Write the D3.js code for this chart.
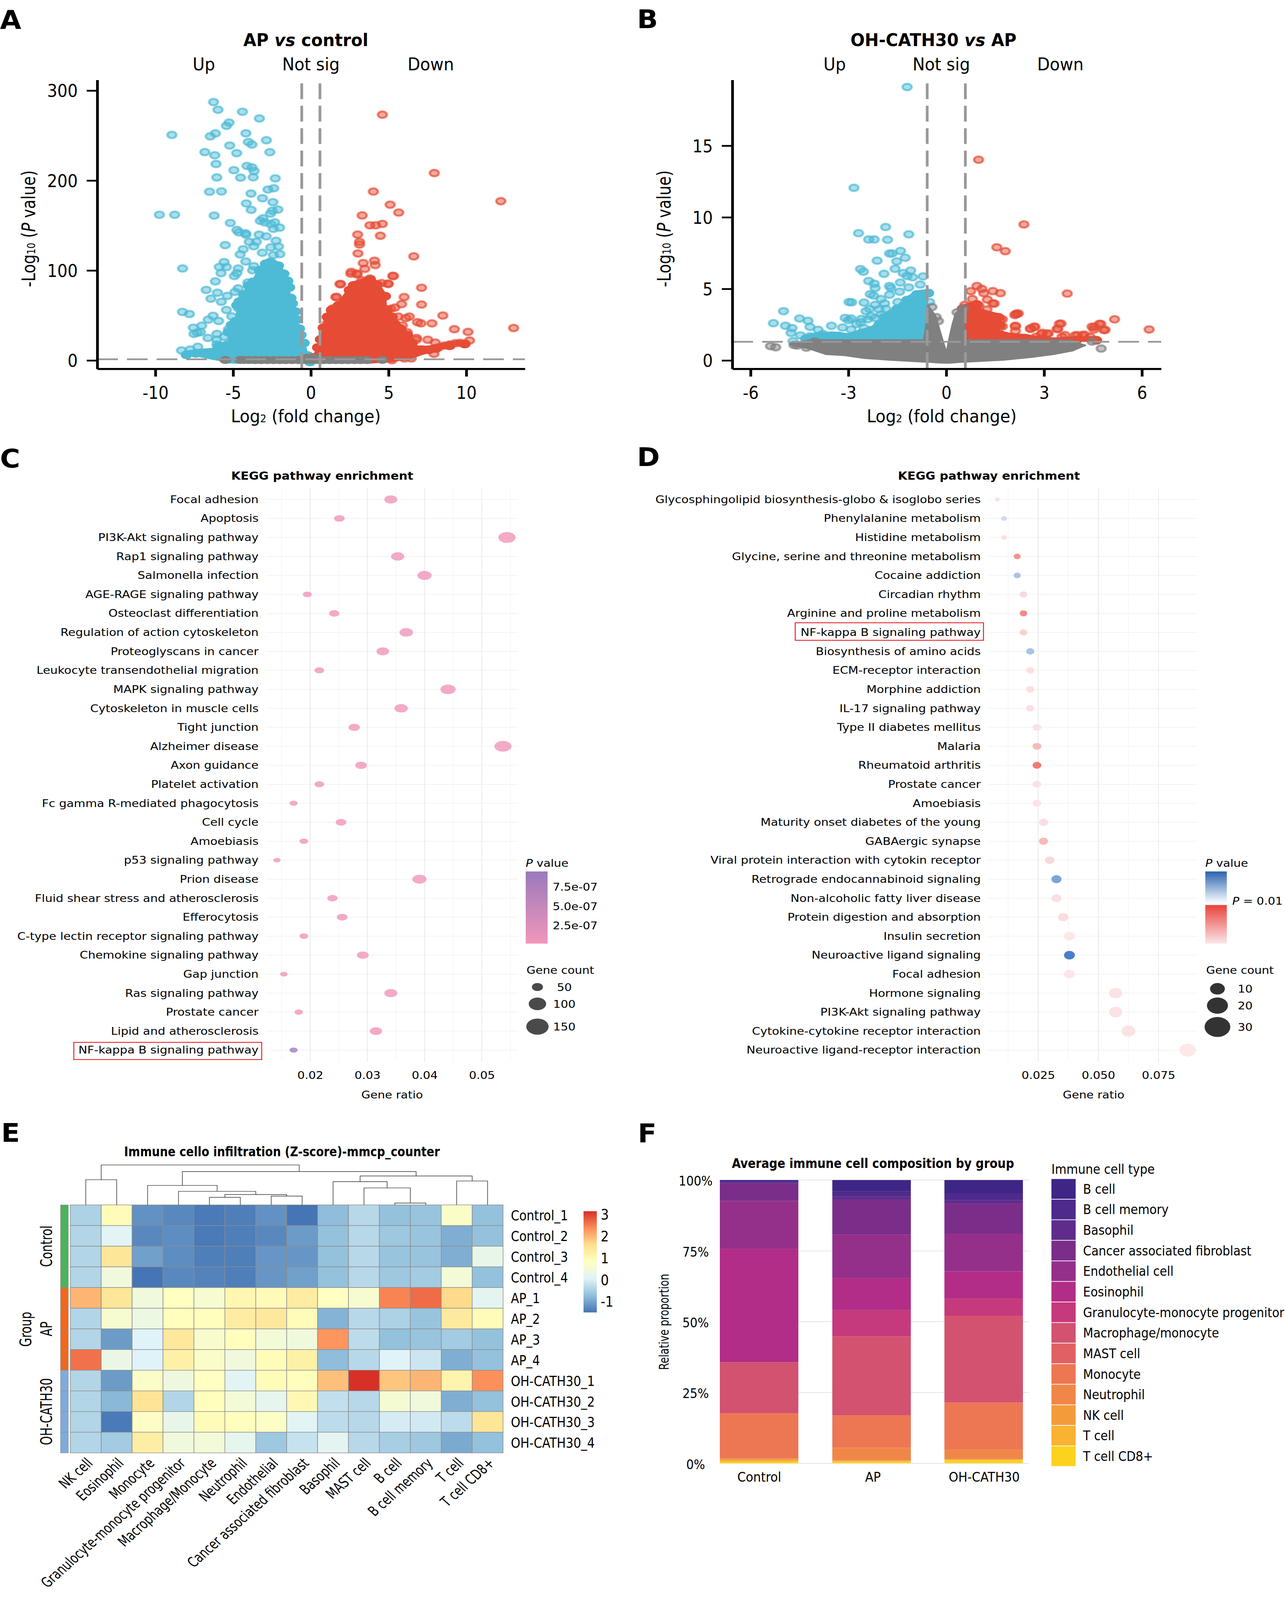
<!DOCTYPE html>
<html>
<head>
<meta charset="utf-8">
<script src="https://cdn.jsdelivr.net/npm/d3@7"></script>
<style>
html, body { margin: 0; background: #fff; overflow: hidden; }
text { font-family: "DejaVu Sans", sans-serif; fill: #000; }
</style>
</head>
<body>
<div id="chart"></div>
<script>
// volcano A: values, [log2fc, -log10p]
var aUp = [[-6.26,287.2],[-5.97,278.7],[-4.4,276.4],[-3.31,269],[-5.26,264.4],[-5.43,260.8],[-8.94,250.7],[-6.14,252.4],[-6.47,249.1],[-4.18,252.5],[-2.86,244.8],[-4.02,242.8],[-3.79,240],[-5.22,238.9],[-4.77,230.4],[-2.64,231.5],[-6.82,231.6],[-6.18,228.1],[-6.1,218.4],[-4.11,216.2],[-3.79,214.5],[-3.65,210.6],[-4.95,211.5],[-6.05,203.4],[-4.52,203.2],[-3.71,203.6],[-2.29,202.4],[-6.52,187.5],[-5.75,187.9],[-3.85,185.5],[-2.76,190],[-2.39,191.4],[-3.11,180.3],[-4.15,174.5],[-2.44,175.9],[-3.84,167.4],[-2.12,167.7],[-2.48,166.4],[-2.6,163.2],[-9.74,161.9],[-8.76,161.9],[-6.22,161],[-5.18,152.8],[-3.08,158],[-3.25,155.2],[-2.96,153.5],[-2.33,153.5],[-2.01,147.6],[-2.41,146.3],[-2.58,151.5],[-4.76,145],[-4.63,142.4],[-4.21,141.4],[-4.17,139.8],[-3.33,139.8],[-2.87,137.9],[-3.96,131.8],[-3.5,132],[-3.67,126.9],[-2.24,133],[-2.08,126.5],[-2.58,125.6],[-5.51,128.2],[-4.35,123.6],[-3.12,119.7],[-4.55,117.8],[-1.99,118.2],[-2.41,117.1],[-5.58,109.3],[-4.19,110],[-5.89,103.9],[-5.43,103.8],[-8.25,102.2],[-4.67,102.2],[-3.67,104.8],[-3.75,100.2],[-5.78,97],[-4.76,97],[-4.92,93.8],[-6.14,87.9],[-4.05,86.6],[-6.73,78.4],[-6.01,75.2],[-6.43,68.7],[-5.38,71.7],[-5.76,65.2],[-4.67,80.1],[-4.88,76.2],[-1.37,80.8],[-4.38,68.4],[-4.67,58.1],[-8.26,53.9],[-7.81,51.6],[-5.43,56.1],[-6.29,49.6],[-6.6,45.3],[-5.93,43.8],[-5.09,49],[-4.17,47],[-7.56,36.4],[-7.02,38.6],[-7.31,30.8],[-7.52,29.5],[-7.1,31.4],[-5.3,34.7],[-5.09,32.1],[-4.59,31.4],[-4.3,36.6],[-6.62,25],[-6.04,29.5],[-5.57,26.3],[-6.05,23],[-6.05,17.8],[-5.34,18.5],[-7.27,15.2],[-8.32,11.1],[-7.77,12]];
var aDown = [[4.6,273.2],[7.94,208.3],[12.22,177],[4.02,187.7],[5.1,173.1],[5.65,164.4],[3.3,161.2],[4.6,151.8],[3.8,150.2],[4.17,150.2],[3.01,139.9],[4.47,138.6],[3.13,131.8],[3.13,128.9],[3.03,118.9],[6.62,115.7],[4.09,110.8],[4.14,106],[3.37,108.2],[3.47,101.8],[2.6,98.5],[2.96,96.6],[5.27,94],[1.88,85],[7.12,80.8],[1.66,70.5],[7.12,62.1],[3.8,90.8],[4.55,86],[4.98,85],[5.31,93.8],[6,70.4],[5.84,62.6],[8.49,49.9],[7.79,41.2],[7.08,41.2],[6.86,42.5],[9.23,34.7],[10.11,31.7],[13.04,36],[10.21,22.1],[9.6,19.5],[9.29,19.1],[8.93,17.8],[8.58,16.5],[8.23,14.6],[7.92,7.4],[8,19.8],[7.52,23],[6.79,25],[6.79,23],[6.33,48.7],[6.11,47],[5.62,48.7],[5.4,58.7],[5.14,57.4],[5.89,38.8],[6.2,31.4],[5.36,37.3],[4.91,39.2],[4.96,85.3],[3.81,90.5],[3.28,89.2],[2.97,95.7],[2.57,96.4],[1.91,84.7],[1.6,70.4],[1.43,58],[1.34,51.6],[1.07,41.8],[4.52,65.8],[4.52,58],[5.22,.3],[6.02,2.2],[6.46,2.2]];
var aNs = [[-5.5,.5],[-4.55,.5],[-4.3,.5],[-4,.5],[-3.6,.4],[-3.2,.4],[-2.8,.4],[-2.4,.4],[-2,.4],[-1.6,.4],[-1.2,.4],[-.8,.4],[-.4,.5],[-.25,3],[0,.4],[.25,3],[.4,.5],[.8,.4],[1.2,.4],[1.6,.4],[2,.4],[2.4,.4],[2.8,.4],[3.2,.4],[3.6,.4],[4.6,.6]];
// dense part of each cloud, [log2fc, top, bottom]
var aUpBody = [[-8,11,8],[-7.4,12.5,4.5],[-6.3,14,.5],[-5.95,20,-.5],[-5.35,21,-3],[-5.3,36,-3.3],[-5.1,44,-3.5],[-4.85,48,-3.6],[-4.75,66,-3.6],[-4.6,70,-3.6],[-4.3,78,-3.6],[-4,88,-3.6],[-3.7,92,-3.6],[-3.3,105,-3.6],[-2.9,112,-3.6],[-2.6,114,-3.6],[-2.1,110,-3.6],[-1.75,101,-3.6],[-1.5,93,-3.6],[-1.4,86,-3.6],[-1.3,74,-3.6],[-1.2,68,-3.6],[-1,59,-3.6],[-.9,50,-3.6],[-.75,40,-3.6],[-.65,33,-3.6],[-.45,24,-3.6],[-.2,10,-3.6],[-.05,3,3]];
var aDownBody = [[.2,8,3.5],[.45,19,-1],[.63,28,-3],[.81,41,-3.6],[1.07,53,-3.6],[1.34,60.7,-3.6],[1.78,65.8,-3.6],[2.49,82.7,-3.6],[2.75,88,-3.6],[3.81,94.4,-3.6],[4.25,89,-3],[4.78,76,-3],[4.9,61,-2.5],[5.22,53,-2],[5.4,45,-1.5],[5.75,40,-.5],[6.2,33,.2],[6.5,24,2],[6.6,17,2.5],[7.17,16.5,6],[7.6,16.5,8],[8.05,18,10],[8.93,21,15.2],[9.9,23,18]];

// volcano B
var bUp = [[-1.2,19.1],[-2.83,12.06],[-1.86,9.32],[-2.69,8.89],[-1.15,8.81],[-2.38,8.45],[-2.21,8.45],[-1.8,8.43],[-1.4,7.65],[-1.74,7.47],[-1.66,7.47],[-1.26,7.17],[-2.12,6.97],[-1.52,6.92],[-2.63,6.38],[-2.54,6.2],[-1.57,6.4],[-1.09,6.28],[-1.91,6.05],[-1.32,6.1],[-1.2,5.9],[-.71,5.87],[-1.03,5.81],[-2.38,5.55],[-2.21,5.36],[-1.41,5.44],[-.8,5.3],[-1.74,5.2],[-1.7,5.06],[-2.18,5.06],[-1.15,5.1],[-2.33,4.63],[-2.23,4.53],[-1.74,4.59],[-1.43,4.8],[-2,4.29],[-.51,4.08],[-2.98,4.08],[-2.9,4.06],[-2.52,4.04],[-1.89,3.98],[-2.18,3.88],[-1.49,4.08],[-2.06,3.58],[-4.99,3.44],[-2.46,3.44],[-4.5,2.93],[-4.24,2.77],[-3.1,2.97],[-2.92,2.93],[-3,2.81],[-5.3,2.6],[-2.63,2.66],[-2.41,2.87],[-2.18,2.97],[-4.93,2.42],[-4.73,2.26],[-4.18,2.34],[-3.52,2.42],[-3.18,2.3],[-4.76,1.92],[-3.93,2.14],[-4.47,1.75],[-4.18,1.69],[-3.78,1.85],[-3.5,1.75],[-2.92,2.16],[-4.7,1.35],[-2.52,2.26],[-2.75,2.55],[-2.3,3.1],[-2.6,2.9],[-2,3.2],[-2.35,3.6],[-1.85,3.6]];
var bDown = [[.99,14.02],[2.38,9.5],[1.55,7.9],[1.81,7.63],[3.71,4.67],[.94,5.2],[1.09,5],[.75,4.84],[1.15,4.7],[1.43,4.84],[1.66,4.7],[.8,4.29],[1.26,4.25],[1.43,3.98],[.57,3.88],[2.16,3.27],[2.1,3.17],[1.66,2.87],[5.16,2.87],[4.7,2.56],[6.22,2.16],[3.47,2.56],[2.69,2.36],[2.58,2.22],[2.12,2.42],[1.66,2.42],[3.4,2.2],[4.47,2.36],[4.83,2.12],[4.53,2.16],[2.12,2.06],[2.92,1.85],[3.09,1.85],[2.75,1.65],[3.55,1.65],[3.95,1.75],[4.18,1.75],[4.41,1.65],[4.87,2.14],[4.54,2.34],[4.74,2.54],[3.52,2.57],[3.42,2.2],[2.72,2.34],[2.59,2.22],[2.14,3.24],[2.21,3.28],[1.72,2.87],[1.72,2.38],[2.12,2.38],[1.47,3.97],[1,3.85],[1.25,3.56],[2.95,1.93],[3.13,1.89],[3.64,1.77],[4.02,1.77],[4.23,1.81]];
var bNs = [[-5.39,1],[-5.23,.92],[-4.67,1.08],[-4.57,1.04],[-4.29,.89],[-4.03,1.32],[4.75,.83],[4.47,1.32],[.33,3.36],[.53,3.65],[-.31,3.03],[-.24,2.75],[-.44,3.73]];
var bUpBody = [[-4.3,1.8,1.3],[-3.9,2,1.3],[-3.3,2,1.3],[-3,1.9,1.3],[-2.6,2.2,1.3],[-2.3,2.4,1.3],[-2.05,2.8,1.3],[-1.9,3.3,1.3],[-1.5,3.9,1.3],[-1.2,4.5,1.3],[-.9,4.9,1.3],[-.55,5,1.3]];
var bDownBody = [[.5,3.9,1.3],[.93,4.2,1.3],[1.07,3.6,1.3],[1.6,3.3,1.3],[1.62,2.75,1.3],[1.65,2.1,1.3],[1.96,1.93,1.3],[2.41,1.85,1.3],[2.86,1.7,1.3],[3.3,1.6,1.3],[3.98,1.7,1.3],[4.6,1.7,1.3]];
var bNsBody = [[-4.8,1.2,1.05],[-4.2,1.48,.76],[-3.7,1.48,.38],[-3.11,1.48,.3],[-2.51,1.48,.1],[-1.71,1.48,-.02],[-.71,1.48,-.15],[-.55,3.9,-.16],[-.31,3.16,-.2],[-.16,2,-.22],[0,.79,-.23],[.06,1.5,-.23],[.16,2.5,-.22],[.26,3.3,-.2],[.5,3.85,-.16],[.62,1.48,-.15],[1.74,1.48,-.02],[2.64,1.48,.18],[3.3,1.48,.38],[3.89,1.45,.63],[4,1.28,.75],[4.29,1.1,1.02]];

var volcanoClasses = ["Up", "Not sig", "Down"];

// KEGG enrichment C
var cPathways = ["Focal adhesion","Apoptosis","PI3K-Akt signaling pathway","Rap1 signaling pathway","Salmonella infection","AGE-RAGE signaling pathway","Osteoclast differentiation","Regulation of action cytoskeleton","Proteoglyscans in cancer","Leukocyte transendothelial migration","MAPK signaling pathway","Cytoskeleton in muscle cells","Tight junction","Alzheimer disease","Axon guidance","Platelet activation","Fc gamma R-mediated phagocytosis","Cell cycle","Amoebiasis","p53 signaling pathway","Prion disease","Fluid shear stress and atherosclerosis","Efferocytosis","C-type lectin receptor signaling pathway","Chemokine signaling pathway","Gap junction","Ras signaling pathway","Prostate cancer","Lipid and atherosclerosis","NF-kappa B signaling pathway"];
var cRatio = [.0341,.0251,.0544,.0353,.04,.0195,.0242,.0368,.0327,.0216,.0441,.0359,.0277,.0537,.0289,.0216,.0171,.0254,.0189,.0142,.0391,.0239,.0256,.0189,.0292,.0154,.0341,.018,.0315,.0171];
var cCount = [95,70,151,98,111,54,67,102,91,60,123,100,77,149,80,60,47,70,52,40,109,66,71,52,81,43,95,50,88,47];
var cP = [2e-8,2e-8,2e-8,2e-8,2e-8,2e-8,2e-8,2e-8,2e-8,2e-8,2e-8,2e-8,2e-8,2e-8,2e-8,2e-8,2e-8,2e-8,2e-8,2e-8,2e-8,2e-8,2e-8,2e-8,2e-8,2e-8,2e-8,2e-8,2e-8,8.8e-7];
var cPTicks = [2.5e-7, 5e-7, 7.5e-7];
var cCountTicks = [50, 100, 150];

// KEGG enrichment D
var dPathways = ["Glycosphingolipid biosynthesis-globo & isoglobo series","Phenylalanine metabolism","Histidine metabolism","Glycine, serine and threonine metabolism","Cocaine addiction","Circadian rhythm","Arginine and proline metabolism","NF-kappa B signaling pathway","Biosynthesis of amino acids","ECM-receptor interaction","Morphine addiction","IL-17 signaling pathway","Type II diabetes mellitus","Malaria","Rheumatoid arthritis","Prostate cancer","Amoebiasis","Maturity onset diabetes of the young","GABAergic synapse","Viral protein interaction with cytokin receptor","Retrograde endocannabinoid signaling","Non-alcoholic fatty liver disease","Protein digestion and absorption","Insulin secretion","Neuroactive ligand signaling","Focal adhesion","Hormone signaling","PI3K-Akt signaling pathway","Cytokine-cytokine receptor interaction","Neuroactive ligand-receptor interaction"];
var dRatio = [.008,.0108,.0108,.0163,.0163,.0189,.0189,.0189,.0217,.0217,.0217,.0217,.0245,.0245,.0245,.0245,.0245,.0272,.0272,.0298,.0326,.0326,.0354,.038,.038,.038,.0572,.0572,.0625,.0871];
var dCount = [3,4,4,6,6,7,7,7,8,8,8,8,9,9,9,9,9,10,10,11,12,12,13,14,14,14,21,21,23,32];
var dP = [.001,.014,.001,.006,.018,.0015,.0065,.002,.018,.001,.001,.001,.0008,.0035,.0075,.0008,.0008,.001,.0035,.0015,.023,.001,.0012,.0006,.029,.0006,.0008,.0008,.0008,.0005];
var dCountTicks = [10, 20, 30];

// heatmap E
var eCells = ["NK cell","Eosinophil","Monocyte","Granulocyte-monocyte progenitor","Macrophage/Monocyte","Neutrophil","Endothelial","Cancer associated fibroblast","Basophil","MAST cell","B cell","B cell memory","T cell","T cell CD8+"];
var eSamples = ["Control_1","Control_2","Control_3","Control_4","AP_1","AP_2","AP_3","AP_4","OH-CATH30_1","OH-CATH30_2","OH-CATH30_3","OH-CATH30_4"];
var eGroups = ["Control","AP","OH-CATH30"];
var eZ = [
  [-.5,.85,-1.25,-1.35,-1.5,-1.45,-1.25,-1.55,-.8,-.4,-.75,-.7,.65,-.75],
  [-.45,.05,-1.35,-1.3,-1.5,-1.45,-1.35,-1.15,-.75,-.4,-.65,-.7,-.95,-.75],
  [-.45,1.4,-1.1,-1.3,-1.45,-1.45,-1.2,-1.2,-.75,-.4,-.7,-.7,-.95,.2],
  [-.45,.4,-1.55,-1.35,-1.4,-1.45,-1.2,-1.1,-.75,-.4,-.65,-.6,.45,-.75],
  [1.95,1.4,.4,.75,.55,1,.9,1.25,.75,.55,2.4,2.6,1.6,.1],
  [-.45,.55,.3,.8,.8,1.25,1.35,.85,-.9,-.4,-.5,-.7,1.3,.85],
  [-.45,-1.15,0,1.35,.6,.8,.45,.4,2.25,-.35,-.75,-.7,-.6,-.75],
  [2.55,.25,0,1.15,.65,.4,.85,1.15,-.8,-.4,0,-.2,-.95,-.75],
  [-.45,-1.15,.65,.35,.75,.05,.85,.8,1.85,3.1,1.8,1.95,1.05,2.3],
  [-.45,-.85,1.45,-.45,.8,.45,.15,.95,-.3,-.4,.5,.4,-.95,-.75],
  [-.45,-1.5,.7,.2,.85,.8,.7,.05,-.35,-.4,-.1,-.15,-.35,1.4],
  [-.45,-.6,1.2,.4,.45,.15,-.65,-.25,.1,-.4,-.55,-.65,-1,-.75]
];
var eTicks = [-1, 0, 1, 2, 3];
// dendrogram merges: left, right (leaf index, or "nN" for merge N), height
var eMerges = [[0,1,80],[4,5,24],[6,7,28],["n1","n2",33],[3,"n3",43],[2,"n4",62],[10,11,6],[9,"n6",54],[8,"n7",74],[12,13,76],["n8","n9",92],["n5","n10",106],["n0","n11",127]];

// stacked bars F
var fGroups = ["Control","AP","OH-CATH30"];
var fTypes = ["B cell","B cell memory","Basophil","Cancer associated fibroblast","Endothelial cell","Eosinophil","Granulocyte-monocyte progenitor","Macrophage/monocyte","MAST cell","Monocyte","Neutrophil","NK cell","T cell","T cell CD8+"];
var fColors = ["#3e2687","#4e2a8c","#5f2c8c","#7a2e8a","#94308a","#b22d87","#c53a7d","#d35270","#e16064","#ed7653","#f08748","#f39b3a","#f9b232","#fdd21e"];
var fControl = [.6,.4,0,6.4,16.9,40,0,18.05,0,15.9,.3,.3,.55,.55];
var fAP = [3.9,2,1,12.3,15.4,11.3,9.3,27.9,0,11.4,4.35,.2,.45,.45];
var fOH = [4.7,2.45,1.15,10.6,13.3,9.6,6.05,30.7,0,16.45,3.5,.2,.2,1.05];
var fTicks = [0, 25, 50, 75, 100];

// the figure is laid out on its 3290x4568 sheet and stretched to whatever window it gets
var svg = d3.select("#chart").append("svg")
    .attr("viewBox", "0 0 3290 4568")
    .attr("preserveAspectRatio", "none")
    .style("width", "100vw")
    .style("height", "100vh")
    .style("display", "block")
    .style("background", "#fff");
var defs = svg.append("defs");

// text helper, o.sx / o.sy squeeze the glyphs the way the figure does
function label(x, y, s, o) {
    o = o || {};
    return svg.append("text")
        .attr("transform", "translate(" + x + "," + y + ") rotate(" + (o.rot || 0) + ") scale(" + (o.sx || 1) + "," + (o.sy || 1) + ")")
        .attr("text-anchor", o.anchor || "start")
        .attr("font-size", o.size || 32)
        .attr("font-weight", o.weight || "normal")
        .html(s);
}

function gradient(id, stops) {
    var g = defs.append("linearGradient").attr("id", id)
        .attr("x1", 0).attr("y1", 0).attr("x2", 0).attr("y2", 1);
    stops.forEach(function (s) {
        g.append("stop").attr("offset", s[0]).attr("stop-color", s[1]);
    });
}

var panelLetters = [["A",0,83],["B",1631,80],["C",0,1335],["D",1631,1331],["E",3,3260],["F",1633,3261]];
panelLetters.forEach(function (p) {
    label(p[1], p[2], p[0], { size: 74, weight: "bold", sx: .95 });
});

var RED = "#E64B35", BLUE = "#4DBBD5", GREY = "#808080";

function drawVolcano(cfg) {
    var x = d3.scaleLinear().domain(cfg.xDomain).range(cfg.xRange);
    var y = d3.scaleLinear().domain(cfg.yDomain).range([1053, 228]);
    var area = d3.area().x(function (d) { return x(d[0]); })
        .y0(function (d) { return y(d[2]); })
        .y1(function (d) { return y(d[1]); });

    function dots(pts, color) {
        var g = svg.append("g").selectAll("g").data(pts).join("g")
            .attr("transform", function (d) { return "translate(" + x(d[0]) + "," + y(d[1]) + ")"; });
        g.append("ellipse").attr("rx", 15).attr("ry", 12.5)
            .attr("fill", color).attr("fill-opacity", .48);
        g.append("ellipse").attr("rx", 10.5).attr("ry", 8.5)
            .attr("fill", "none").attr("stroke", color).attr("stroke-width", 4).attr("stroke-opacity", .7);
    }

    dots(cfg.up, BLUE);
    dots(cfg.down, RED);
    // solid cloud goes over the single dots, with dots along its top edge
    cfg.bodies.forEach(function (b) {
        svg.append("path").datum(b[0]).attr("d", area).attr("fill", b[1]);
        svg.append("g").selectAll("ellipse").data(b[0]).join("ellipse")
            .attr("cx", function (d) { return x(d[0]); })
            .attr("cy", function (d) { return y(d[1]) + 12; })
            .attr("rx", 15).attr("ry", 12.5).attr("fill", b[1]);
    });
    if (cfg.nsBody) svg.append("path").datum(cfg.nsBody).attr("d", area).attr("fill", GREY);
    dots(cfg.ns, GREY);
    if (cfg.nsBand) {
        svg.append("g").selectAll("ellipse").data(cfg.nsBand).join("ellipse")
            .attr("cx", function (d) { return x(d[0]); }).attr("cy", function (d) { return y(d[1]); })
            .attr("rx", 15).attr("ry", 11.5).attr("fill", GREY);
    }

    // threshold lines
    svg.append("line").attr("x1", cfg.xRange[0]).attr("x2", cfg.xRange[1])
        .attr("y1", y(1.3)).attr("y2", y(1.3))
        .attr("stroke", "#999").attr("stroke-width", 5).attr("stroke-dasharray", "53,23");
    [-.585, .585].forEach(function (v) {
        svg.append("line").attr("x1", x(v)).attr("x2", x(v)).attr("y1", 238).attr("y2", 1053)
            .attr("stroke", "#999").attr("stroke-width", 7).attr("stroke-dasharray", "45,19");
    });

    var ax = svg.append("g").attr("transform", "translate(0,1053)")
        .call(d3.axisBottom(x).tickValues(cfg.xTicks).tickSize(22).tickSizeOuter(0).tickPadding(0).tickFormat(String));
    ax.select(".domain").attr("stroke", "#000").attr("stroke-width", 6);
    ax.selectAll(".tick line").attr("stroke", "#000").attr("stroke-width", 7);
    ax.selectAll(".tick text").attr("dy", 0).attr("y", 0)
        .attr("transform", "translate(0,86) scale(.82,1)").attr("font-size", 50)
        .style("font-family", '"DejaVu Sans"');
    var ay = svg.append("g").attr("transform", "translate(" + cfg.xRange[0] + ",0)")
        .call(d3.axisLeft(y).tickValues(cfg.yTicks).tickSize(27).tickSizeOuter(0).tickPadding(0).tickFormat(String));
    ay.select(".domain").attr("stroke", "#000").attr("stroke-width", 7);
    ay.selectAll(".tick line").attr("stroke", "#000").attr("stroke-width", 5);
    ay.selectAll(".tick text").attr("x", 0).attr("dy", 0)
        .attr("transform", "translate(-50,18) scale(.82,1)").attr("font-size", 50)
        .style("font-family", '"DejaVu Sans"');

    label(cfg.titleX, 132, cfg.title, { size: 50, weight: "bold", anchor: "middle", sx: .86 });
    volcanoClasses.forEach(function (c, i) {
        label(cfg.classX[i], 201, c, { size: 50, anchor: "middle", sx: .84 });
    });
    label(cfg.axisX, 1206, 'Log<tspan font-size="30">2</tspan> (fold change)', { size: 50, anchor: "middle", sx: .84 });
    label(cfg.yLabX, 653, '-Log<tspan font-size="30">10</tspan> (<tspan font-style="italic">P</tspan> value)', { size: 50, anchor: "middle", rot: -90, sx: .87, sy: .95 });
}

drawVolcano({
    xDomain: [-13.74, 13.77], xRange: [249, 1344], yDomain: [-9.35, 311.9],
    xTicks: [-10, -5, 0, 5, 10], yTicks: [0, 100, 200, 300],
    up: aUp, down: aDown, ns: [], nsBand: aNs,
    bodies: [[aUpBody, BLUE], [aDownBody, RED]],
    title: 'AP <tspan font-style="italic">vs</tspan> control', titleX: 783,
    classX: [522, 796, 1103], axisX: 783, yLabX: 90
});
drawVolcano({
    xDomain: [-6.56, 6.59], xRange: [1875, 2973], yDomain: [-.587, 19.6],
    xTicks: [-6, -3, 0, 3, 6], yTicks: [0, 5, 10, 15],
    up: bUp, down: bDown, ns: bNs, nsBody: bNsBody,
    bodies: [[bUpBody, BLUE], [bDownBody, RED]],
    title: 'OH-CATH30 <tspan font-style="italic">vs</tspan> AP', titleX: 2390,
    classX: [2137, 2410, 2715], axisX: 2411, yLabX: 1717
});

function drawBubbles(cfg) {
    var x = d3.scaleLinear().domain(cfg.xDomain).range(cfg.xRange);
    var y = d3.scalePoint().domain(cfg.names).range([1426, 2998]);
    var g = svg.append("g");
    g.selectAll("line.minor").data(cfg.minor).join("line").attr("class", "minor")
        .attr("x1", x).attr("x2", x).attr("y1", 1395).attr("y2", 3031)
        .attr("stroke", "#f3f3f3").attr("stroke-width", 1.5);
    g.selectAll("line.major").data(cfg.ticks).join("line").attr("class", "major")
        .attr("x1", x).attr("x2", x).attr("y1", 1395).attr("y2", 3031)
        .attr("stroke", "#e9e9e9").attr("stroke-width", 2);
    g.selectAll("line.row").data(cfg.names).join("line").attr("class", "row")
        .attr("x1", cfg.xRange[0]).attr("x2", cfg.xRange[1])
        .attr("y1", y).attr("y2", y)
        .attr("stroke", "#eeeeee").attr("stroke-width", 1.5);

    var ayis = svg.append("g").attr("transform", "translate(" + (cfg.labelX) + ",0)")
        .call(d3.axisLeft(y).tickSize(0).tickPadding(0));
    ayis.select(".domain").remove();
    ayis.selectAll("text").attr("font-size", 30.4).style("font-family", '"DejaVu Sans"').attr("fill", "#000");

    svg.append("g").selectAll("ellipse").data(cfg.names).join("ellipse")
        .attr("cx", function (d, i) { return x(cfg.ratio[i]); })
        .attr("cy", function (d) { return y(d); })
        .attr("rx", function (d, i) { return cfg.r(cfg.count[i]); })
        .attr("ry", function (d, i) { return cfg.r(cfg.count[i]) * cfg.squash; })
        .attr("fill", function (d, i) { return cfg.color(cfg.p[i]); })
        .attr("fill-opacity", cfg.opacity);

    var ax = svg.append("g").attr("transform", "translate(0,3031)")
        .call(d3.axisBottom(x).tickValues(cfg.ticks).tickSize(0).tickPadding(0).tickFormat(cfg.fmt));
    ax.select(".domain").remove();
    ax.selectAll("text").attr("dy", 0).attr("y", 49).attr("font-size", 30)
        .style("font-family", '"DejaVu Sans"').attr("fill", "#000");
    label(cfg.axisX, 3136, "Gene ratio", { size: 30, anchor: "middle" });
    label(cfg.titleX, 1369, "KEGG pathway enrichment", { size: 31, weight: "bold", anchor: "middle" });

    // red box round the highlighted row
    svg.append("rect").attr("x", cfg.box[0]).attr("y", cfg.box[1])
        .attr("width", cfg.box[2]).attr("height", cfg.box[3])
        .attr("fill", "none").attr("stroke", "#e8242a").attr("stroke-width", 2.5);

    label(cfg.legX, 2475, '<tspan font-style="italic">P</tspan> value', { size: 30 });
    label(cfg.legX + 2, 2780, "Gene count", { size: 30 });
    cfg.countTicks.forEach(function (c, i) {
        svg.append("ellipse").attr("cx", cfg.dotX).attr("cy", cfg.dotY[i])
            .attr("rx", cfg.r(c) * cfg.legScale[0]).attr("ry", cfg.r(c) * cfg.legScale[1])
            .attr("fill", cfg.dotColor);
        label(cfg.countX, cfg.dotY[i] + 11, c, { size: 30, anchor: "middle" });
    });
}

var cColor = d3.scaleLinear().domain([1.4e-8, 9.5e-7]).range(["#f08bb2", "#8f6bb5"]);
drawBubbles({
    names: cPathways, ratio: cRatio, count: cCount, p: cP, color: cColor, opacity: .72,
    r: d3.scalePow().exponent(.5).domain([30, 150]).range([7.5, 22]), squash: .7,
    xDomain: [.01235, .05631], xRange: [682, 1326], labelX: 662,
    ticks: [.02, .03, .04, .05], minor: [.015, .025, .035, .045, .055], fmt: d3.format(".2f"),
    axisX: 1004, titleX: 825, box: [189, 2976, 481, 49],
    legX: 1346, countTicks: cCountTicks, dotX: 1376, dotY: [2818, 2866, 2931], countX: 1445,
    legScale: [1.3, 1.05], dotColor: "#4a4a4a"
});
// p value bar of C
gradient("barC", [[0, cColor(9.5e-7)], [1, cColor(1.4e-8)]]);
svg.append("rect").attr("x", 1346).attr("y", 2488).attr("width", 56).attr("height", 206)
    .attr("fill", "url(#barC)").attr("fill-opacity", .9);
var cPScale = d3.scaleLinear().domain([2.5e-7, 7.5e-7]).range([2642, 2532]);
cPTicks.forEach(function (t) {
    label(1415, cPScale(t) + 11, t.toExponential(1).replace("e-7", "e-07"), { size: 30 });
});

var dRed = d3.scaleLinear().domain([0, .01]).range(["#fdeef0", "#e8453c"]);
var dBlue = d3.scaleLinear().domain([.01, .03]).range(["#eaf1fb", "#2b6cbf"]);
function dColor(p) { return p < .01 ? dRed(p) : dBlue(p); }
drawBubbles({
    names: dPathways, ratio: dRatio, count: dCount, p: dP, color: dColor, opacity: .9,
    r: d3.scaleSqrt().domain([0, 32]).range([0, 21]), squash: .88,
    xDomain: [.00422, .09107], xRange: [2530, 3065], labelX: 2511,
    ticks: [.025, .05, .075], minor: [.0125, .0375, .0625], fmt: d3.format(".3f"),
    axisX: 2800, titleX: 2532, box: [2036, 1778, 482, 50],
    legX: 3086, countTicks: dCountTicks, dotX: 3117, dotY: [2823, 2871, 2932], countX: 3188,
    legScale: [1.62, 1.4], dotColor: "#333333"
});
// p value bar of D, jumps at P = 0.01
gradient("barD", [[0, "#2b63ad"], [.4, "#e8f1fb"], [.46, "#ffffff"], [.47, "#e8453c"], [1, "#fbe6e9"]]);
svg.append("rect").attr("x", 3086).attr("y", 2488).attr("width", 55).attr("height", 206).attr("fill", "url(#barD)");
label(3155, 2583, '<tspan font-style="italic">P</tspan> = 0.01', { size: 30 });

// heatmap E
var eX = d3.scaleBand().domain(eCells).range([180, 1288]);
var eY = d3.scaleBand().domain(eSamples).range([3440, 4148]);
var eStops = [-1.55, -.775, 0, .775, 1.55, 2.325, 3.1];
var eColor = d3.scaleLinear().domain(eStops)
    .range(["#4575B4", "#91BFDB", "#E0F3F8", "#FFFFBF", "#FEE090", "#FC8D59", "#D73027"]);
eZ.forEach(function (row, i) {
    svg.append("g").selectAll("rect").data(row).join("rect")
        .attr("x", function (d, j) { return eX(eCells[j]); })
        .attr("y", eY(eSamples[i]))
        .attr("width", eX.bandwidth()).attr("height", eY.bandwidth())
        .attr("fill", function (d) { return eColor(d); })
        .attr("stroke", "#8c8c8c").attr("stroke-width", 1.5);
});
var eGroupColors = ["#4cb35a", "#f0681e", "#7faadc"];
eSamples.forEach(function (s, i) {
    var k = i < 4 ? 0 : (i < 8 ? 1 : 2);
    svg.append("rect").attr("x", 155).attr("y", eY(s)).attr("width", 20).attr("height", eY.bandwidth())
        .attr("fill", eGroupColors[k]).attr("stroke", "#8c8c8c").attr("stroke-width", 1);
    label(1308, eY(s) + eY.bandwidth() / 2 + 15, s, { size: 40, sx: .77 });
});
eGroups.forEach(function (g, k) {
    label(133, eY(eSamples[k * 4]) + eY.bandwidth() * 2, g, { size: 40, rot: -90, anchor: "middle", sx: .82 });
});
label(80, 3795, "Group", { size: 40, rot: -90, anchor: "middle", sx: .82 });
eCells.forEach(function (c) {
    label(eX(c) + eX.bandwidth() / 2 + 20, 4180, c, { size: 40, rot: -45, anchor: "end", sx: .74 });
});
label(722, 3301, "Immune cello infiltration (Z-score)-mmcp_counter", { size: 38, weight: "bold", anchor: "middle", sx: .76 });

// dendrogram
var eH = d3.scaleLinear().domain([0, 127]).range([3440, 3326]);
var eNodes = {};
eMerges.forEach(function (m, i) {
    function pos(id) {
        if (typeof id === "string") return eNodes[id];
        return { x: eX(eCells[id]) + eX.bandwidth() / 2, h: 0 };
    }
    var a = pos(m[0]), b = pos(m[1]);
    eNodes["n" + i] = { x: (a.x + b.x) / 2, h: m[2] };
    var p = d3.path();
    p.moveTo(a.x, eH(a.h));
    p.lineTo(a.x, eH(m[2]));
    p.lineTo(b.x, eH(m[2]));
    p.lineTo(b.x, eH(b.h));
    svg.append("path").attr("d", p.toString()).attr("fill", "none").attr("stroke", "#333").attr("stroke-width", 1.5);
});
// colour bar
var eBarY = d3.scaleLinear().domain([-1.55, 3.1]).range([3747, 3458]);
gradient("barE", eStops.slice().reverse().map(function (v, i) { return [i / 6, eColor(v)]; }));
svg.append("rect").attr("x", 1494).attr("y", 3458).attr("width", 34).attr("height", 289).attr("fill", "url(#barE)");
eTicks.forEach(function (t) {
    label(1538, eBarY(t) + 18, t, { size: 42, sx: .78 });
});

// stacked bars F
var fX = d3.scaleOrdinal().domain(fGroups).range([1843, 2131, 2418]);
var fY = d3.scaleLinear().domain([0, 100]).range([4178, 3369]);
var fBarW = 201;
svg.append("g").selectAll("line").data(fTicks).join("line")
    .attr("x1", 1843).attr("x2", 2634).attr("y1", fY).attr("y2", fY)
    .attr("stroke", "#ebebeb").attr("stroke-width", 3);
var fSeries = [fControl, fAP, fOH];
var fCenterX = [1944, 2235, 2520];
fSeries.forEach(function (vals, i) {
    var rows = fTypes.map(function (t, j) {
        return { top: 100 - d3.sum(vals.slice(0, j)), v: vals[j], color: fColors[j] };
    });
    svg.append("g").selectAll("rect").data(rows).join("rect")
        .attr("x", fX(fGroups[i])).attr("width", fBarW)
        .attr("y", function (d) { return fY(d.top); })
        .attr("height", function (d) { return fY(d.top - d.v) - fY(d.top); })
        .attr("fill", function (d) { return d.color; });
    label(fCenterX[i], 4230, fGroups[i], { size: 38, anchor: "middle", sx: .82 });
});
fTicks.forEach(function (t) {
    label(1781, fY(t) + 16, t + "%", { size: 38, anchor: "middle", sx: .8 });
});
label(1712, 3774, "Relative proportion", { size: 33, rot: -90, anchor: "middle", sx: .87 });
label(2235, 3335, "Average immune cell composition by group", { size: 37, weight: "bold", anchor: "middle", sx: .8 });
label(2692, 3351, "Immune cell type", { size: 37, sx: .82 });
var fLegY = d3.scaleBand().domain(fTypes).range([3366, 3366 + 58.7 * 14]);
fTypes.forEach(function (t, j) {
    svg.append("rect").attr("x", 2692).attr("y", fLegY(t)).attr("width", 62).attr("height", fLegY.bandwidth() - 2)
        .attr("fill", fColors[j]);
    label(2773, fLegY(t) + 42, t, { size: 37, sx: .82 });
});
</script>
</body>
</html>
